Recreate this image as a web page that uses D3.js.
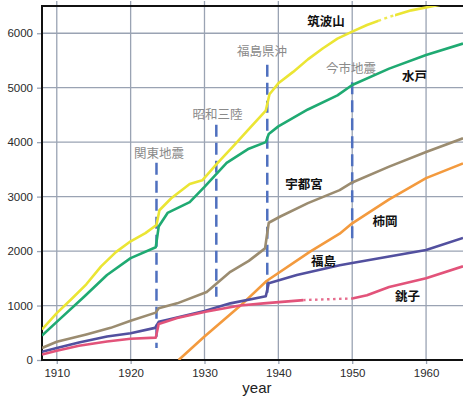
<!DOCTYPE html>
<html>
<head>
<meta charset="utf-8">
<script src="https://cdn.jsdelivr.net/npm/d3@7"></script>
<style>
  html, body { margin: 0; padding: 0; background: #fff; }
  svg { display: block; }
  text { font-family: "Liberation Sans", Arial, sans-serif; }
  .jp { font-family: "Noto Sans CJK JP", "Noto Sans", sans-serif; }
</style>
</head>
<body>
<svg id="chart" width="463" height="401"></svg>
<script>
// Cumulative values per station, by year
const tsukubaYears  = [1908, 1910, 1912, 1914, 1916, 1918, 1920, 1922, 1923.5, 1923.9, 1925.5, 1928, 1929.7, 1931.6, 1934, 1936, 1938.3, 1938.8, 1940, 1942, 1944, 1946, 1948, 1950, 1952, 1955, 1958, 1961, 1965];
const tsukubaValues = [560, 860, 1120, 1390, 1720, 1980, 2180, 2330, 2480, 2750, 2970, 3230, 3300, 3590, 3940, 4240, 4580, 4880, 5080, 5290, 5520, 5720, 5900, 6030, 6150, 6300, 6420, 6500, 6600];

const mitoYears  = [1908, 1910, 1913.7, 1916.8, 1920, 1923.4, 1923.8, 1925, 1928, 1930, 1931.5, 1933, 1936, 1938.3, 1938.7, 1940, 1944, 1948, 1950, 1955, 1960, 1965];
const mitoValues = [450, 700, 1160, 1560, 1870, 2070, 2450, 2700, 2900, 3180, 3400, 3620, 3880, 4000, 4150, 4290, 4600, 4860, 5050, 5350, 5600, 5810];

const utsunomiyaYears  = [1908, 1910, 1914, 1917.3, 1920, 1923.4, 1923.8, 1926.3, 1930.3, 1933.5, 1936, 1938.2, 1938.7, 1940.2, 1944, 1948.3, 1950, 1955, 1960, 1965];
const utsunomiyaValues = [220, 335, 470, 590, 720, 870, 950, 1040, 1250, 1620, 1820, 2050, 2520, 2630, 2880, 3120, 3260, 3550, 3820, 4070];

const kakiokaYears  = [1926.5, 1930, 1934.8, 1938.4, 1944.3, 1948.3, 1950, 1955, 1960, 1965];
const kakiokaValues = [0, 430, 990, 1450, 1990, 2320, 2510, 2950, 3340, 3610];

const fukushimaYears  = [1908, 1910, 1913, 1916.8, 1920, 1923.3, 1923.8, 1925, 1930, 1933.5, 1938.3, 1938.7, 1942.5, 1948.3, 1950, 1955, 1960, 1965];
const fukushimaValues = [150, 220, 320, 430, 490, 590, 700, 740, 900, 1040, 1170, 1410, 1560, 1740, 1780, 1900, 2020, 2240];

const choshiYears  = [1908, 1910, 1913, 1916.8, 1920, 1923.4, 1923.8, 1926.3, 1930.3, 1934.8, 1938, 1943.4, 1950, 1952, 1955, 1960, 1965];
const choshiValues = [100, 170, 260, 340, 390, 410, 660, 770, 890, 1000, 1040, 1100, 1130, 1190, 1340, 1500, 1720];

// Stretches of a record drawn as a broken line [from, to]
const tsukubaBroken = [1953.6, 1955.8];
const choshiBroken  = [1943.4, 1950];

// Earthquakes: name, year, vertical extent of the marker line
const quakeNames  = ["関東地震", "昭和三陸", "福島県沖", "今市地震"];
const quakeYears  = [1923.5, 1931.6, 1938.5, 1950];
const quakeTops   = [3620, 4320, 5420, 5100];
const quakeBottoms = [220, 1160, 1160, 2150];

// Station names and where they are written (year, value)
const stationNames  = ["筑波山", "水戸", "宇都宮", "柿岡", "福島", "銚子"];
const stationLabelX = [1946.45, 1958.43, 1943.47, 1954.44, 1946.11, 1957.49];
const stationLabelY = [6130, 5120, 3140, 2460, 1725, 1085];

// Quake caption anchor points (year, value)
const quakeLabelX = [1923.84, 1931.76, 1937.79, 1949.84];
const quakeLabelY = [3700, 4420, 5575, 5265];

const xTicks = [1910, 1920, 1930, 1940, 1950, 1960];
const yTicks = [0, 1000, 2000, 3000, 4000, 5000, 6000];

const svg = d3.select("#chart");
const plotLeft = 42, plotRight = 463, plotTop = 6, plotBottom = 360;

const x = d3.scaleLinear().domain([1908, 1965]).range([plotLeft, plotRight]);
const y = d3.scaleLinear().domain([0, 6500]).range([plotBottom, plotTop]);

const defs = svg.append("defs");
defs.append("clipPath").attr("id", "plot")
  .append("rect").attr("x", plotLeft).attr("y", plotTop)
  .attr("width", plotRight - plotLeft).attr("height", plotBottom - plotTop);

function brokenClips(id, range) {
  // inside = only the broken stretch, outside = everything else
  const h = plotBottom - plotTop;
  const cIn = defs.append("clipPath").attr("id", id + "-in");
  cIn.append("rect").attr("x", x(range[0])).attr("y", plotTop).attr("width", x(range[1]) - x(range[0])).attr("height", h);
  const cOut = defs.append("clipPath").attr("id", id + "-out");
  cOut.append("rect").attr("x", plotLeft).attr("y", plotTop).attr("width", x(range[0]) - plotLeft).attr("height", h);
  cOut.append("rect").attr("x", x(range[1])).attr("y", plotTop).attr("width", plotRight - x(range[1])).attr("height", h);
}
brokenClips("tsukuba", tsukubaBroken);
brokenClips("choshi", choshiBroken);

// Grid
const grid = svg.append("g");
grid.selectAll("line.gx").data(xTicks).join("line")
  .attr("x1", d => x(d)).attr("x2", d => x(d))
  .attr("y1", 1).attr("y2", plotBottom)
  .attr("stroke", "#9aa3b3").attr("stroke-width", 1.3);
grid.selectAll("line.gy").data(yTicks.filter(d => d > 0)).join("line")
  .attr("x1", plotLeft).attr("x2", plotRight)
  .attr("y1", d => y(d)).attr("y2", d => y(d))
  .attr("stroke", "#9aa3b3").attr("stroke-width", 1.3);

// Axes
const yAxis = svg.append("g").attr("transform", `translate(${plotLeft},0)`)
  .call(d3.axisLeft(y).tickValues(yTicks).tickFormat(d3.format("d")).tickSize(5).tickPadding(4));
const xAxis = svg.append("g").attr("transform", `translate(0,${plotBottom})`)
  .call(d3.axisBottom(x).tickValues(xTicks).tickFormat(d3.format("d")).tickSize(4).tickPadding(5));
[yAxis, xAxis].forEach(g => {
  g.select(".domain").remove();
  g.selectAll(".tick line").attr("stroke", "#9aa3b3").attr("stroke-width", 1.3);
  g.selectAll(".tick text").attr("font-size", 11.5).attr("fill", "#2a2a2a")
    .attr("font-family", "'Liberation Sans', Arial, sans-serif");
});

svg.append("line").attr("x1", plotLeft).attr("x2", plotLeft).attr("y1", plotTop - 1).attr("y2", plotBottom + 1)
  .attr("stroke", "#111").attr("stroke-width", 2);
svg.append("line").attr("x1", plotLeft - 1).attr("x2", plotRight).attr("y1", plotBottom).attr("y2", plotBottom)
  .attr("stroke", "#111").attr("stroke-width", 2);
svg.append("line").attr("x1", plotLeft - 1).attr("x2", plotRight).attr("y1", plotTop).attr("y2", plotTop)
  .attr("stroke", "#111").attr("stroke-width", 2);

svg.append("text").attr("x", x(1937.1)).attr("y", 393)
  .attr("text-anchor", "middle").attr("font-size", 15).attr("fill", "#222").text("year");

// Quake markers
const quakes = quakeNames.map((n, i) => ({ n, yr: quakeYears[i], t: quakeTops[i], b: quakeBottoms[i], lx: quakeLabelX[i], ly: quakeLabelY[i] }));
svg.append("g").selectAll("line").data(quakes).join("line")
  .attr("x1", d => x(d.yr)).attr("x2", d => x(d.yr))
  .attr("y1", d => y(d.t)).attr("y2", d => y(d.b))
  .attr("stroke", "#4f70bf").attr("stroke-width", 2.5)
  .attr("stroke-dasharray", "12,6");

// Station records
const line = d3.line().x(d => x(d[0])).y(d => y(d[1])).curve(d3.curveLinear);
const series = [
  { yrs: tsukubaYears, vals: tsukubaValues, color: "#ebe534", id: "tsukuba", dash: "3,3.5" },
  { yrs: mitoYears, vals: mitoValues, color: "#1faa72" },
  { yrs: utsunomiyaYears, vals: utsunomiyaValues, color: "#9b8c70" },
  { yrs: kakiokaYears, vals: kakiokaValues, color: "#f39a3e" },
  { yrs: fukushimaYears, vals: fukushimaValues, color: "#52509f" },
  { yrs: choshiYears, vals: choshiValues, color: "#e2537a", id: "choshi", dash: "2.5,3.5" }
];
const lines = svg.append("g").attr("clip-path", "url(#plot)");
series.forEach(s => {
  const pts = s.yrs.map((yr, i) => [yr, s.vals[i]]);
  const p = lines.append("path").attr("d", line(pts)).attr("fill", "none")
    .attr("stroke", s.color).attr("stroke-width", 2.6)
    .attr("stroke-linejoin", "round").attr("stroke-linecap", "butt");
  if (s.id) {
    p.attr("clip-path", `url(#${s.id}-out)`);
    lines.append("path").attr("d", line(pts)).attr("fill", "none")
      .attr("stroke", s.color).attr("stroke-width", 2.4).attr("opacity", 0.85)
      .attr("stroke-dasharray", s.dash)
      .attr("clip-path", `url(#${s.id}-in)`);
  }
});

// Quake captions
svg.append("g").selectAll("text").data(quakes).join("text")
  .attr("class", "jp")
  .attr("x", d => x(d.lx)).attr("y", d => y(d.ly))
  .attr("text-anchor", "middle").attr("font-size", 12.5).attr("fill", "#8a8a8a")
  .text(d => d.n);

// Station names
const stations = stationNames.map((n, i) => ({ n, lx: stationLabelX[i], ly: stationLabelY[i] }));
svg.append("g").selectAll("text").data(stations).join("text")
  .attr("class", "jp")
  .attr("x", d => x(d.lx)).attr("y", d => y(d.ly))
  .attr("text-anchor", "middle").attr("font-size", 12.5).attr("font-weight", 700).attr("fill", "#111")
  .text(d => d.n);
</script>
</body>
</html>
